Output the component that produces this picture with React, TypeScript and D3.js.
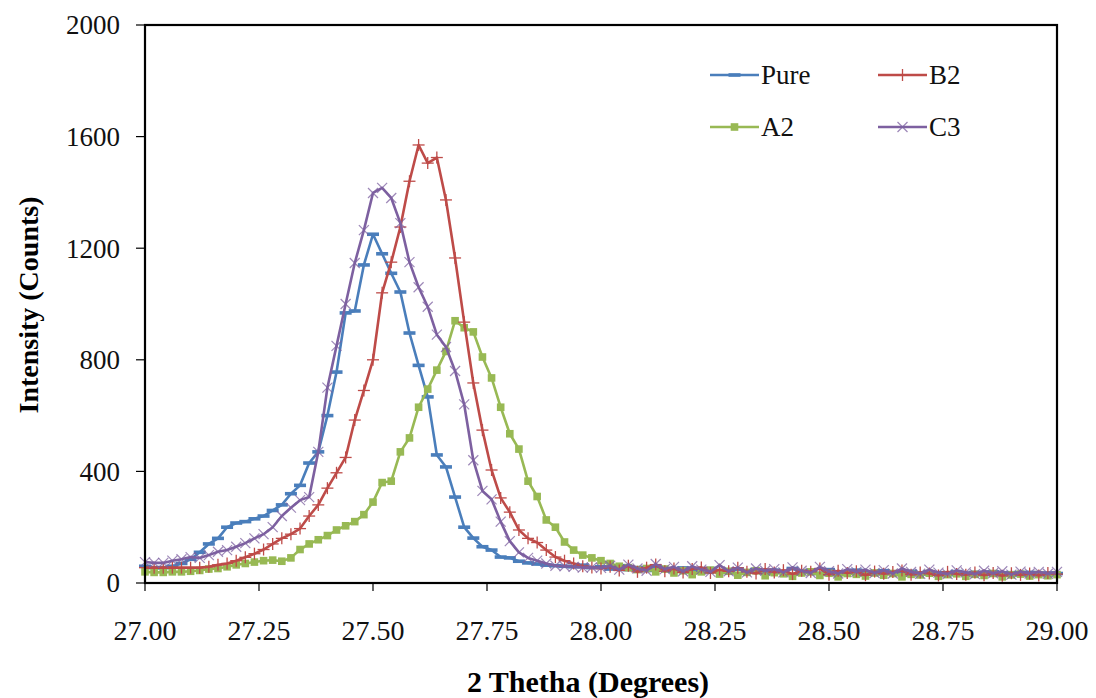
import React from "react";
import * as d3 from "d3";

const thetaStart = 27.0;
const thetaStep = 0.02;

const pureValues = [
  60, 55, 55, 60, 70, 85, 110, 140, 160, 200,
  215, 220, 230, 240, 260, 280, 320, 350, 430, 470,
  600, 756, 968, 975, 1140, 1250, 1180, 1110, 1043, 896,
  780, 667, 459, 416, 308, 200, 161, 130, 118, 93,
  90, 78, 72, 68, 64, 62, 60, 58, 64, 55,
  58, 50, 62, 48, 55, 45, 58, 50, 42, 54,
  46, 40, 52, 44, 38, 50, 42, 48, 36, 46,
  40, 52, 38, 44, 34, 48, 40, 36, 46, 38,
  33, 44, 40, 35, 42, 32, 40, 37, 30, 41,
  35, 38, 30, 40, 34, 37, 29, 38, 32, 36,
  34,
];

const b2Values = [
  55, 55, 55, 55, 55, 55, 55, 58, 65, 70,
  80, 92, 105, 120, 140, 160, 175, 195, 240, 280,
  340, 395, 450, 584, 690, 800, 1040, 1150, 1276, 1440,
  1570, 1505, 1525, 1373, 1165, 935, 717, 548, 405, 305,
  254, 190, 160, 145, 118, 93, 80, 70, 60, 56,
  52, 58, 45, 62, 40, 55, 66, 42, 52, 38,
  50, 56, 36, 48, 42, 55, 40, 34, 50, 38,
  46, 32, 44, 40, 52, 30, 44, 36, 42, 28,
  41, 33, 39, 45, 30, 38, 34, 27, 40, 32,
  30, 38, 28, 36, 26, 35, 29, 34, 27, 36,
  32,
];

const a2Values = [
  40, 38, 38, 40, 40, 42, 45, 50, 52, 58,
  65, 70, 75, 80, 82, 78, 90, 120, 140, 155,
  170, 190, 205, 220, 245, 290, 360, 365, 470, 520,
  630, 695, 763, 830, 940, 915, 900, 810, 735, 630,
  535, 480, 365, 310, 226, 200, 147, 118, 100, 90,
  80, 70, 60, 55, 48, 52, 40, 50, 36, 44,
  30, 40, 46, 32, 42, 28, 38, 44, 26, 37,
  33, 24, 36, 40, 27, 35, 22, 34, 31, 25,
  36, 28, 34, 22, 31, 29, 35, 24, 30, 33,
  24, 31, 27, 34, 22, 29, 32, 25, 30, 26,
  30,
];

const c3Values = [
  75, 72, 72, 80, 85, 93, 90, 100, 112, 118,
  130, 143, 160, 175, 200, 240, 270, 297, 308, 470,
  700, 850, 1000, 1147, 1265, 1398, 1416, 1380, 1290, 1150,
  1060, 990, 890, 846, 760, 640, 440, 330, 300, 220,
  150, 110, 90, 80, 70, 62, 60, 58, 55, 56,
  54, 62, 48, 66, 52, 44, 68, 50, 58, 42,
  60, 48, 40, 64, 42, 55, 38, 52, 44, 50,
  38, 56, 44, 36, 58, 42, 34, 50, 40, 48,
  36, 46, 34, 52, 40, 33, 48, 37, 32, 45,
  38, 32, 44, 35, 42, 30, 41, 34, 40, 33,
  40,
];

const xTicks = [27.0, 27.25, 27.5, 27.75, 28.0, 28.25, 28.5, 28.75, 29.0];
const yTicks = [0, 400, 800, 1200, 1600, 2000];

const seriesNames = ["Pure", "B2", "A2", "C3"];
const seriesColors = ["#4A7EBB", "#BE4B48", "#98B954", "#7D60A0"];
const seriesMarkers = ["dash", "plus", "square", "cross"];
const seriesData = [pureValues, b2Values, a2Values, c3Values];

const W = 1096;
const H = 698;
const m = { left: 145, right: 1057, top: 25, bottom: 583 };

function Marker({ kind, x, y, color }: { kind: string; x: number; y: number; color: string }) {
  if (kind === "dash") {
    return <rect x={x - 6} y={y - 1.8} width={12} height={3.6} fill={color} />;
  }
  if (kind === "plus") {
    return (
      <g stroke={color} strokeWidth={1.3}>
        <line x1={x - 6} x2={x + 6} y1={y} y2={y} />
        <line x1={x} x2={x} y1={y - 6} y2={y + 6} />
      </g>
    );
  }
  if (kind === "square") {
    return <rect x={x - 3.8} y={y - 3.8} width={7.6} height={7.6} fill={color} />;
  }
  return (
    <g stroke={color} strokeWidth={1.2} opacity={0.75}>
      <line x1={x - 5} x2={x + 5} y1={y - 5} y2={y + 5} />
      <line x1={x - 5} x2={x + 5} y1={y + 5} y2={y - 5} />
    </g>
  );
}

export default function App() {
  const x = d3.scaleLinear().domain([27, 29]).range([m.left, m.right]);
  const y = d3.scaleLinear().domain([0, 2000]).range([m.bottom, m.top]);
  const thetas = pureValues.map((_, i) => thetaStart + i * thetaStep);
  const line = d3
    .line<number>()
    .x((_, i) => x(thetas[i]))
    .y((d) => y(d));

  const drawOrder = [0, 2, 1, 3];
  const font = "'Liberation Serif', 'Times New Roman', serif";

  const legendItems = [
    { i: 0, lx: 710, ly: 75 },
    { i: 1, lx: 878, ly: 75 },
    { i: 2, lx: 710, ly: 127 },
    { i: 3, lx: 878, ly: 127 },
  ];

  return (
    <svg
      width={W}
      height={H}
      style={{ position: "absolute", left: 0, top: 0, background: "#fff" }}
      fontFamily={font}
    >
      <rect x={0} y={0} width={W} height={H} fill="#fff" />
      {drawOrder.map((si) => (
        <g key={si}>
          <path
            d={line(seriesData[si]) || ""}
            fill="none"
            stroke={seriesColors[si]}
            strokeWidth={2.6}
            strokeLinejoin="round"
          />
          {seriesData[si].map((v, i) => (
            <Marker key={i} kind={seriesMarkers[si]} x={x(thetas[i])} y={y(v)} color={seriesColors[si]} />
          ))}
        </g>
      ))}
      <rect
        x={m.left}
        y={m.top}
        width={m.right - m.left}
        height={m.bottom - m.top}
        fill="none"
        stroke="#000"
        strokeWidth={2.2}
      />
      {yTicks.map((t) => (
        <g key={t}>
          <line x1={m.left - 9} x2={m.left} y1={y(t)} y2={y(t)} stroke="#000" strokeWidth={1.2} />
          <text x={120} y={y(t)} dy="0.35em" textAnchor="end" fontSize={27} fill="#111">
            {t}
          </text>
        </g>
      ))}
      {xTicks.map((t) => (
        <g key={t}>
          <line x1={x(t)} x2={x(t)} y1={m.bottom} y2={m.bottom + 8} stroke="#000" strokeWidth={1.2} />
          <text x={x(t)} y={640} textAnchor="middle" fontSize={28} fill="#111">
            {t.toFixed(2)}
          </text>
        </g>
      ))}
      <text
        x={588}
        y={692}
        textAnchor="middle"
        fontSize={30}
        fontWeight="bold"
        fill="#000"
      >
        2 Thetha (Degrees)
      </text>
      <text
        transform={`translate(38,305) rotate(-90)`}
        textAnchor="middle"
        fontSize={28}
        fontWeight="bold"
        fill="#000"
      >
        Intensity (Counts)
      </text>
      {legendItems.map(({ i, lx, ly }) => (
        <g key={i}>
          <line x1={lx} x2={lx + 49} y1={ly} y2={ly} stroke={seriesColors[i]} strokeWidth={2.6} />
          <Marker kind={seriesMarkers[i]} x={lx + 24.5} y={ly} color={seriesColors[i]} />
          <text x={lx + 51} y={ly} dy="0.35em" fontSize={27} fill="#111">
            {seriesNames[i]}
          </text>
        </g>
      ))}
    </svg>
  );
}
